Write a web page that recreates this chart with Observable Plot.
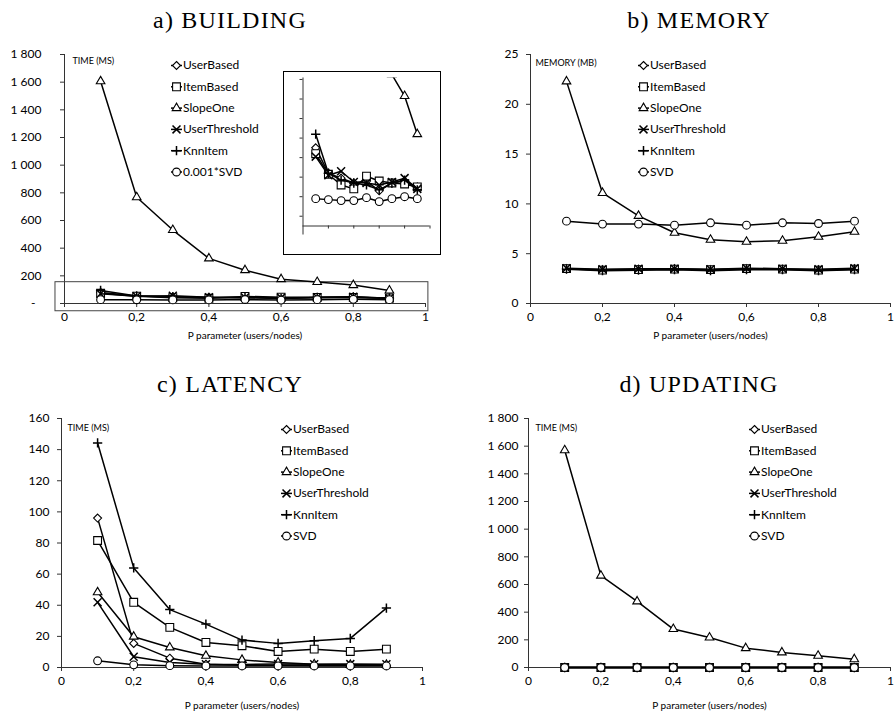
<!DOCTYPE html>
<html>
<head>
<meta charset="utf-8">
<script src="https://cdn.jsdelivr.net/npm/d3@7"></script>
<script src="https://cdn.jsdelivr.net/npm/@observablehq/plot@0.6"></script>
<style>
  body { margin: 0; background: #fff; }
  #root { position: relative; width: 894px; height: 715px; overflow: hidden; background: #fff; }
  .title { position: absolute; font-family: "Liberation Serif", serif; font-size: 24px; line-height: 24px;
           letter-spacing: 1.2px; white-space: nowrap; transform: translateX(-50%); color: #000; }
  .panel { position: absolute; }
  .inset { position: absolute; border: 1.5px solid #000; background: #fff; }
  .inset svg, .panel svg { display: block; }
</style>
</head>
<body>
<div id="root"></div>
<script>
// ---------- DATA ----------
const pValues = [0.1, 0.2, 0.3, 0.4, 0.5, 0.6, 0.7, 0.8, 0.9];
const xTicks = [0, 0.2, 0.4, 0.6, 0.8, 1];
const seriesNames = ["UserBased", "ItemBased", "SlopeOne", "UserThreshold", "KnnItem", "SVD"];
const buildLegendNames = ["UserBased", "ItemBased", "SlopeOne", "UserThreshold", "KnnItem", "0.001*SVD"];

// a) BUILDING (ms; SVD scaled by 0.001)
const buildUserBased     = [80, 54, 49, 44, 46, 36, 44, 46, 40];
const buildItemBased     = [74, 53, 42, 38, 51, 46, 44, 43, 40];
const buildSlopeOne      = [1606, 768, 531, 326, 241, 176, 155, 133, 94];
const buildUserThreshold = [71, 52, 56, 45, 44, 42, 45, 49, 38];
const buildKnnItem       = [94, 54, 47, 44, 42, 37, 44, 47, 37];
const buildSVD           = [28, 27, 26, 26, 29, 25, 28, 30, 28];
const buildTicks = [0, 200, 400, 600, 800, 1000, 1200, 1400, 1600, 1800];
const zoomBox = [{x1: -0.025, x2: 1.008, y1: -56, y2: 154}];
const insetTicks = [10, 30, 50, 70, 90, 110, 130, 150];
const insetXTicks = [0.2, 0.4, 0.6, 0.8, 1];

// b) MEMORY (MB)
const memUserBased     = [3.5, 3.4, 3.45, 3.5, 3.4, 3.5, 3.45, 3.4, 3.5];
const memItemBased     = [3.5, 3.35, 3.4, 3.45, 3.4, 3.5, 3.45, 3.35, 3.45];
const memSlopeOne      = [22.3, 11.1, 8.8, 7.1, 6.4, 6.2, 6.3, 6.7, 7.2];
const memUserThreshold = [3.55, 3.45, 3.5, 3.5, 3.45, 3.55, 3.5, 3.45, 3.55];
const memKnnItem       = [3.45, 3.3, 3.35, 3.4, 3.3, 3.4, 3.4, 3.3, 3.4];
const memSVD           = [8.27, 7.97, 7.97, 7.86, 8.1, 7.86, 8.1, 8.03, 8.27];
const memTicks = [0, 5, 10, 15, 20, 25];

// c) LATENCY (ms)
const latUserBased     = [96, 15.5, 6, 2.1, 1.5, 1.4, 1.3, 1.3, 1.3];
const latItemBased     = [81.6, 41.9, 25.8, 16.1, 14, 10.3, 11.8, 10.3, 11.8];
const latSlopeOne      = [48.3, 19.8, 12.9, 7.5, 4.9, 3.2, 2.1, 1.7, 1.7];
const latUserThreshold = [41.9, 6.9, 3.2, 2.1, 2, 2.2, 2.1, 2.2, 2.1];
const latKnnItem       = [144.3, 64, 37.2, 27.9, 17.6, 15.5, 17.2, 18.7, 38.2];
const latSVD           = [4.3, 1.7, 1.2, 1.0, 1.0, 1.0, 1.0, 1.0, 1.0];
const latTicks = [0, 20, 40, 60, 80, 100, 120, 140, 160];

// d) UPDATING (ms)
const updUserBased     = [0, 0, 0, 0, 0, 0, 0, 0, 0];
const updItemBased     = [0, 0, 0, 0, 0, 0, 0, 0, 0];
const updSlopeOne      = [1570, 664, 478, 278, 217, 140, 109, 85, 60];
const updUserThreshold = [0, 0, 0, 0, 0, 0, 0, 0, 0];
const updKnnItem       = [0, 0, 0, 0, 0, 0, 0, 0, 0];
const updSVD           = [0, 0, 0, 0, 0, 0, 0, 0, 0];
const updTicks = [0, 200, 400, 600, 800, 1000, 1200, 1400, 1600, 1800];

// ---------- STYLE ----------
const symbolOf = {UserBased: "diamond2", ItemBased: "square", SlopeOne: "triangle", UserThreshold: "times", KnnItem: "plus", SVD: "circle"};
const radiusOf = {UserBased: 3.6, ItemBased: 4.4, SlopeOne: 3.2, UserThreshold: 3.7, KnnItem: 3.1, SVD: 3.9};
const hline = { draw(ctx) { ctx.moveTo(-5.5, 0); ctx.lineTo(5.5, 0); } };
const AXIS = "#333";

const thousands = d => d >= 1000 ? Math.floor(d / 1000) + "\u00a0" + String(d % 1000).padStart(3, "0") : String(d);
const fmtX = d => String(d).replace(".", ",");

function longData(valuesList) {
  return valuesList.flatMap((vals, i) => pValues.map((p, j) => ({name: seriesNames[i], p, v: vals[j]})));
}

function seriesMarks(data, extra = {}) {
  const marks = [];
  for (const name of seriesNames) {
    const d = data.filter(r => r.name === name);
    marks.push(Plot.line(d, {x: "p", y: "v", stroke: "#000", strokeWidth: 1.5, ...extra}));
    marks.push(Plot.dot(d, {x: "p", y: "v", symbol: symbolOf[name], r: radiusOf[name], fill: "#fff",
      stroke: "#000", strokeWidth: (name === "UserThreshold" || name === "KnnItem") ? 1.5 : 1.1, ...extra}));
  }
  return marks;
}

function legendMarks(labels, dx, dy0, step) {
  const marks = [];
  labels.forEach((label, i) => {
    const name = seriesNames[i];
    const dy = dy0 + i * step;
    marks.push(Plot.dot([label], {frameAnchor: "top-left", dx, dy, symbol: hline, r: 3, fill: "none", stroke: "#000", strokeWidth: 1.5}));
    marks.push(Plot.dot([label], {frameAnchor: "top-left", dx, dy, symbol: symbolOf[name], r: radiusOf[name], fill: "#fff", stroke: "#000",
      strokeWidth: (name === "UserThreshold" || name === "KnnItem") ? 1.5 : 1.1}));
    marks.push(Plot.text([label], {frameAnchor: "top-left", dx: dx + 6.5, dy, text: d => d, textAnchor: "start", lineAnchor: "middle", fontSize: 12, fill: "#000"}));
  });
  return marks;
}

function panel(cfg) {
  const data = longData(cfg.values);
  const marks = [
    Plot.ruleY([0], {stroke: AXIS, strokeWidth: 1}),
    Plot.ruleX([0], {stroke: AXIS, strokeWidth: 1}),
    Plot.axisY({ticks: cfg.yTicks, tickFormat: cfg.yFormat, tickSize: 4, tickPadding: cfg.yPad, label: null, stroke: AXIS, fill: "#000"}),
    Plot.axisX({ticks: xTicks, tickFormat: fmtX, tickSize: 4, tickPadding: 5, label: null, stroke: AXIS, fill: "#000"}),
    ...(cfg.extraMarks || []),
    ...seriesMarks(data),
    ...legendMarks(cfg.legend, cfg.legendDx, cfg.legendDy, 21.3),
    Plot.text([cfg.unit], {frameAnchor: "top-left", dx: cfg.unitDx, dy: cfg.unitDy, text: d => d, textAnchor: "start", lineAnchor: "middle", fontSize: 9, fill: "#000"}),
    Plot.text(["P parameter (users/nodes)"], {frameAnchor: "bottom", dy: cfg.xLabelDy, text: d => d, lineAnchor: "middle", fontSize: 10, fill: "#000"})
  ];
  const svg = Plot.plot({
    width: 447, height: cfg.height,
    marginTop: cfg.m[0], marginRight: cfg.m[1], marginBottom: cfg.m[2], marginLeft: cfg.m[3],
    x: {type: "linear", domain: [0, 1]},
    y: {type: "linear", domain: cfg.yDomain},
    style: {fontFamily: "Lato, sans-serif", fontSize: "12px", color: "#000", background: "transparent", overflow: "visible"},
    marks
  });
  const div = document.createElement("div");
  div.className = "panel";
  div.style.left = cfg.left + "px";
  div.style.top = cfg.top + "px";
  div.appendChild(svg);
  root.appendChild(div);
}

function title(text, cx, top) {
  const t = document.createElement("div");
  t.className = "title";
  t.textContent = text;
  t.style.left = cx + "px";
  t.style.top = top + "px";
  root.appendChild(t);
}

const root = document.getElementById("root");

// Panel a
panel({
  left: 0, top: 0, height: 350, m: [54, 22, 47, 64],
  yDomain: [0, 1800], yTicks: buildTicks, yFormat: d => d === 0 ? "-\u2002" : thousands(d), yPad: 19,
  values: [buildUserBased, buildItemBased, buildSlopeOne, buildUserThreshold, buildKnnItem, buildSVD],
  legend: buildLegendNames, legendDx: 112, legendDy: 11,
  unit: "TIME (MS)", unitDx: 8, unitDy: 7, xLabelDy: 32,
  extraMarks: [Plot.rect(zoomBox, {x1: "x1", x2: "x2", y1: "y1", y2: "y2", fill: "none", stroke: "#444", strokeWidth: 1})]
});
// Panel b
panel({
  left: 447, top: 0, height: 350, m: [54, 4, 47, 83],
  yDomain: [0, 25], yTicks: memTicks, yFormat: d => String(d), yPad: 8,
  values: [memUserBased, memItemBased, memSlopeOne, memUserThreshold, memKnnItem, memSVD],
  legend: seriesNames, legendDx: 113, legendDy: 11,
  unit: "MEMORY (MB)", unitDx: 5, unitDy: 9, xLabelDy: 32
});
// Panel c
panel({
  left: 0, top: 357, height: 358, m: [61, 25, 48, 61],
  yDomain: [0, 160], yTicks: latTicks, yFormat: d => String(d), yPad: 8,
  values: [latUserBased, latItemBased, latSlopeOne, latUserThreshold, latKnnItem, latSVD],
  legend: seriesNames, legendDx: 225, legendDy: 11,
  unit: "TIME (MS)", unitDx: 6, unitDy: 10, xLabelDy: 38
});
// Panel d
panel({
  left: 447, top: 357, height: 358, m: [61, 4, 48, 81],
  yDomain: [0, 1800], yTicks: updTicks, yFormat: thousands, yPad: 6,
  values: [updUserBased, updItemBased, updSlopeOne, updUserThreshold, updKnnItem, updSVD],
  legend: seriesNames, legendDx: 226, legendDy: 11,
  unit: "TIME (MS)", unitDx: 7, unitDy: 10, xLabelDy: 38
});

// Inset (zoom of panel a)
{
  const data = longData([buildUserBased, buildItemBased, buildSlopeOne, buildUserThreshold, buildKnnItem, buildSVD]);
  const svg = Plot.plot({
    width: 156, height: 182,
    marginTop: 5.5, marginRight: 10.5, marginBottom: 28.5, marginLeft: 18.5,
    x: {type: "linear", domain: [0, 1]},
    y: {type: "linear", domain: [0, 151.5]},
    style: {background: "transparent", overflow: "visible"},
    marks: [
      Plot.ruleY([0], {stroke: AXIS, strokeWidth: 1}),
      Plot.ruleX([0], {stroke: AXIS, strokeWidth: 1, insetBottom: -9}),
      Plot.axisY({ticks: insetTicks, tickSize: 3, tickFormat: () => "", label: null, stroke: AXIS}),
      Plot.axisX({ticks: insetXTicks, tickSize: 3, tickFormat: () => "", label: null, stroke: AXIS}),
      ...seriesMarks(data, {clip: true})
    ]
  });
  const div = document.createElement("div");
  div.className = "inset";
  div.style.left = "283px";
  div.style.top = "71px";
  div.appendChild(svg);
  root.appendChild(div);
}

title("a) BUILDING", 230, 8);
title("b) MEMORY", 699, 8);
title("c) LATENCY", 230, 372);
title("d) UPDATING", 699, 372);
</script>
</body>
</html>
